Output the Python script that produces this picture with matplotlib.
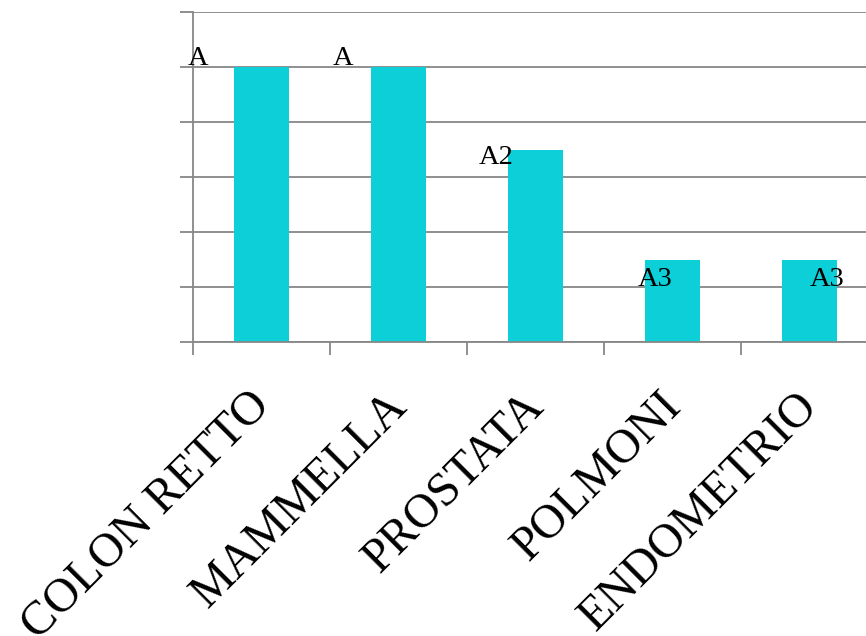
import numpy as np
import matplotlib
matplotlib.use("Agg")
import matplotlib.pyplot as plt
import matplotlib.transforms as mtransforms
from matplotlib.ticker import MultipleLocator, FixedLocator

plt.rcParams['font.family'] = ['Liberation Serif', 'DejaVu Serif']

categories = ["COLON RETTO", "MAMMELLA", "PROSTATA", "POLMONI", "ENDOMETRIO"]
values = [5, 5, 3.5, 1.5, 1.5]
labels = ["A", "A", "A2", "A3", "A3"]

# where each data label sits relative to its bar (offsets in data units)
label_dx = [-0.46, -0.405, -0.29, -0.13, 0.13]
label_dy = [0.15, 0.15, -0.14, -0.36, -0.36]

grid_col = "#878787"
bar_col = "#0dcfd8"

fig = plt.figure(figsize=(8.66, 6.36), dpi=100)
ax = fig.add_axes([193 / 866, 1 - 342 / 636, 685 / 866, 330 / 636])

x = np.arange(len(categories))
ax.bar(x, values, width=0.4, color=bar_col, zorder=3)

for i in range(len(values)):
    ax.text(x[i] + label_dx[i], values[i] + label_dy[i], labels[i],
            ha="center", va="center", fontsize=20.5, zorder=4)

ax.set_xlim(-0.5, 4.5)
ax.set_ylim(0, 6)

ax.yaxis.set_major_locator(MultipleLocator(1))
ax.set_yticklabels([])
ax.grid(axis="y", color=grid_col, linewidth=1.3, zorder=0)
ax.tick_params(axis="y", length=9.5, width=1.3, color=grid_col, direction="out")

ax.set_xticks(x)
ax.set_xticklabels(categories, rotation=45, ha="right", rotation_mode="anchor",
                   fontsize=34.5)
ax.tick_params(axis="x", which="major", length=0, pad=30)
shift = mtransforms.ScaledTranslation(-0.14, 0, fig.dpi_scale_trans)
for lab in ax.get_xticklabels():
    lab.set_transform(lab.get_transform() + shift)
ax.xaxis.set_minor_locator(FixedLocator(np.arange(-0.5, 5, 1)))
ax.tick_params(axis="x", which="minor", length=9.5, width=1.3, color=grid_col)

for side in ["top", "right"]:
    ax.spines[side].set_visible(False)
for side in ["left", "bottom"]:
    ax.spines[side].set_color(grid_col)
    ax.spines[side].set_linewidth(1.3)
ax.spines["bottom"].set_zorder(5)

fig.savefig("out.png", dpi=100)
